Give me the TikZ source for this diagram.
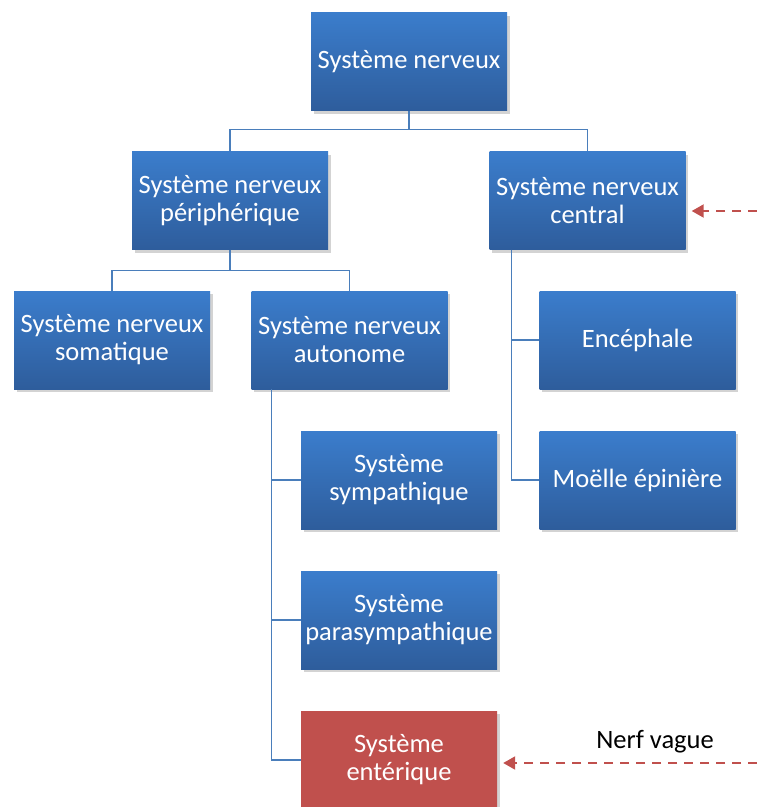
\documentclass[tikz,border=0pt]{standalone}
\usepackage{fontspec}
\setmainfont{Carlito}
\usetikzlibrary{shadows,arrows.meta,calc}
\definecolor{boxtop}{HTML}{3B7DCC}
\definecolor{boxbot}{HTML}{2E5D9C}
\definecolor{linkblue}{HTML}{4A7EBB}
\definecolor{redbox}{HTML}{C0504D}
\tikzset{
  box/.style={rectangle, minimum width=196pt, minimum height=98pt, inner sep=0pt,
    top color=boxtop, bottom color=boxbot, text=white, align=center,
    font=\fontsize{26.5}{28}\selectfont,
    drop shadow={opacity=0.35, shadow xshift=2.5pt, shadow yshift=-3pt}},
  redboxstyle/.style={box, top color=redbox, bottom color=redbox, fill=redbox},
  link/.style={draw=linkblue, line width=1.5pt},
  vague/.style={draw=redbox, line width=2pt, dash pattern=on 9pt off 7pt,
    -{Triangle[length=12pt,width=13pt]}}
}
\begin{document}
\begin{tikzpicture}[x=1pt,y=-1pt]
\useasboundingbox (0,0) rectangle (757,807);
\node[box] (top) at (409,61.5) {Système nerveux};
\node[box] (snp) at (230,200.5) {Système nerveux\\périphérique};
\node[box] (snc) at (587.5,200.5) {Système nerveux\\central};
\node[box] (som) at (112,340) {Système nerveux\\somatique};
\node[box] (aut) at (349.5,340) {Système nerveux\\autonome};
\node[box] (enc) at (637.5,340) {Encéphale};
\node[box] (moe) at (637.5,480) {Moëlle épinière};
\node[box] (sym) at (399,480) {Système\\sympathique};
\node[box] (par) at (399,620) {Système\\parasympathique};
\node[redboxstyle] (ent) at (399,760) {Système\\entérique};

\coordinate (j1) at ($(top.south)+(0,19)$);
\draw[link] (top.south) -- (j1);
\draw[link] (j1) -| (snp.north);
\draw[link] (j1) -| (snc.north);

\coordinate (j2) at ($(snp.south)+(0,21)$);
\draw[link] (snp.south) -- (j2);
\draw[link] (j2) -| (som.north);
\draw[link] (j2) -| (aut.north);

\coordinate (a0) at ($(aut.south west)+(20,0)$);
\draw[link] (a0) |- (sym.west);
\draw[link] (a0) |- (par.west);
\draw[link] (a0) |- (ent.west);

\coordinate (c0) at ($(snc.south west)+(22,0)$);
\draw[link] (c0) |- (enc.west);
\draw[link] (c0) |- (moe.west);

\coordinate (s1) at (757,211);
\draw[vague] (s1) -- ($(snc.east)+(6,10.5)$);
\coordinate (s2) at (757,763);
\draw[vague] (s2) -- ($(ent.east)+(6,3)$);
\node[font=\fontsize{26.5}{28}\selectfont, text=black] (nv) at (655,742) {Nerf vague};
\end{tikzpicture}
\end{document}
